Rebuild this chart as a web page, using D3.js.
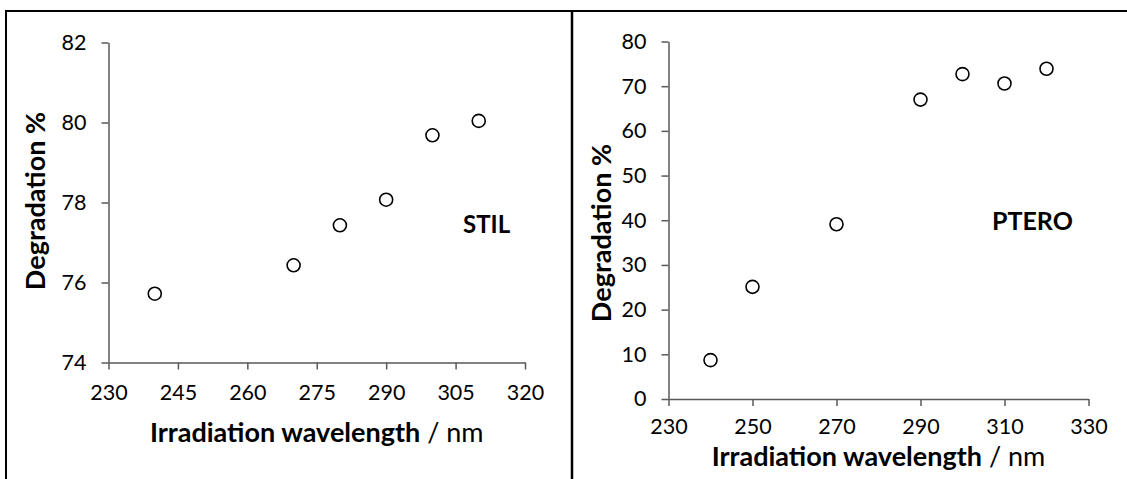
<!DOCTYPE html>
<html>
<head>
<meta charset="utf-8">
<script src="https://cdn.jsdelivr.net/npm/d3@7"></script>
<style>
  body { margin: 0; background: #fff; }
  svg text { font-family: Lato, "Open Sans", sans-serif; fill: #000; }
  .axis path, .axis line { stroke: #595959; stroke-width: 1.5; }
  .axis text { font-size: 21.5px; }
  .dot { fill: #fff; stroke: #000; stroke-width: 1.6; }
</style>
</head>
<body>
<div id="chart"></div>
<script>
'use strict';

// STIL panel
const stilWavelength = [240, 270, 280, 290, 300, 310];
const stilDegradation = [75.72, 76.43, 77.43, 78.07, 79.68, 80.04];
const stilXTicks = [230, 245, 260, 275, 290, 305, 320];
const stilYTicks = [74, 76, 78, 80, 82];

// PTERO panel
const pteroWavelength = [240, 250, 270, 290, 300, 310, 320];
const pteroDegradation = [8.7, 25.1, 39.1, 67.0, 72.7, 70.6, 73.9];
const pteroXTicks = [230, 250, 270, 290, 310, 330];
const pteroYTicks = [0, 10, 20, 30, 40, 50, 60, 70, 80];

const width = 1127, height = 479;

let svg = d3.select('#chart').append('svg')
            .attr('width', width)
            .attr('height', height);

// panel frames
svg.append('line').attr('x1', 6).attr('x2', 6).attr('y1', 10).attr('y2', height)
   .attr('stroke', '#000').attr('stroke-width', 2);
svg.append('line').attr('x1', 5).attr('x2', width).attr('y1', 11).attr('y2', 11)
   .attr('stroke', '#000').attr('stroke-width', 2);
svg.append('line').attr('x1', 572).attr('x2', 572).attr('y1', 10).attr('y2', height)
   .attr('stroke', '#000').attr('stroke-width', 2.5);

function drawPanel(p) {
    let x = d3.scaleLinear().domain(d3.extent(p.xTicks)).range([p.left, p.right]);
    let y = d3.scaleLinear().domain(d3.extent(p.yTicks)).range([p.bottom, p.top]);

    let xAxis = d3.axisBottom(x).tickValues(p.xTicks).tickSize(7).tickSizeOuter(0)
                  .tickPadding(p.xPad).tickFormat(d3.format('d'));
    let yAxis = d3.axisLeft(y).tickValues(p.yTicks).tickSize(7).tickSizeOuter(0)
                  .tickPadding(15).tickFormat(d3.format('d'));

    svg.append('g').attr('class', 'x axis')
       .attr('transform', `translate(0,${p.bottom})`)
       .call(xAxis);
    svg.append('g').attr('class', 'y axis')
       .attr('transform', `translate(${p.left},0)`)
       .call(yAxis);

    svg.selectAll('.dot-' + p.name).data(p.xs.map((v, i) => ({x: v, y: p.ys[i]})))
       .enter().append('circle')
               .attr('class', 'dot')
               .attr('r', 6.5)
               .attr('cx', d => x(d.x))
               .attr('cy', d => y(d.y));

    let xt = svg.append('text')
                .attr('x', (p.left + p.right) / 2)
                .attr('y', p.xTitleY)
                .attr('text-anchor', 'middle')
                .style('font-size', '27px');
    xt.append('tspan').style('font-weight', 'bold').text('Irradiation wavelength');
    xt.append('tspan').text(' / nm');

    svg.append('text')
       .attr('transform', `translate(${p.yTitleX},${p.yTitleY}) rotate(-90)`)
       .attr('text-anchor', 'middle')
       .style('font-size', '27px')
       .style('font-weight', 'bold')
       .text('Degradation %');

    svg.append('text')
       .attr('x', p.labelX).attr('y', p.labelY)
       .style('font-size', p.labelSize)
       .style('font-weight', 'bold')
       .text(p.name);
}

drawPanel({
    name: 'STIL', xs: stilWavelength, ys: stilDegradation,
    xTicks: stilXTicks, yTicks: stilYTicks,
    left: 108.5, right: 525, top: 42.5, bottom: 362.5, xPad: 15,
    xTitleY: 442, yTitleX: 45, yTitleY: 201,
    labelX: 463, labelY: 233, labelSize: '24px'
});

drawPanel({
    name: 'PTERO', xs: pteroWavelength, ys: pteroDegradation,
    xTicks: pteroXTicks, yTicks: pteroYTicks,
    left: 668.5, right: 1088.5, top: 41.5, bottom: 399, xPad: 13,
    xTitleY: 466, yTitleX: 611, yTitleY: 233,
    labelX: 992, labelY: 230, labelSize: '25px'
});
</script>
</body>
</html>
